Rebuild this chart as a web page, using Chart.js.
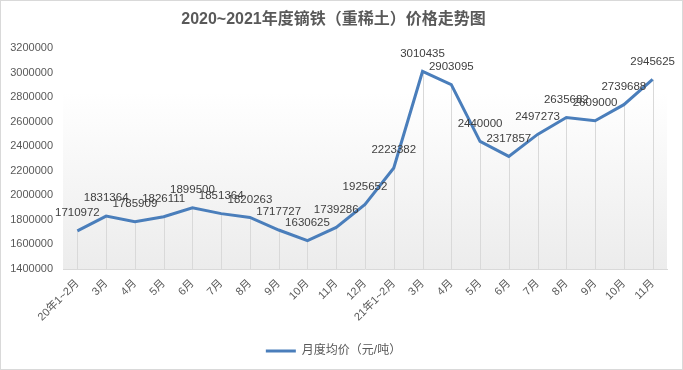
<!DOCTYPE html>
<html>
<head>
<meta charset="utf-8">
<script src="https://cdn.jsdelivr.net/npm/chart.js@4.4.1/dist/chart.umd.min.js"></script>
<style>
  html, body { margin: 0; padding: 0; background: #fff; }
</style>
</head>
<body>
<canvas id="priceChart" width="683" height="370"></canvas>
<script>
// 月份与月度均价（元/吨）
const months = ['20年1~2月', '3月', '4月', '5月', '6月', '7月', '8月', '9月', '10月', '11月', '12月',
                '21年1~2月', '3月', '4月', '5月', '6月', '7月', '8月', '9月', '10月', '11月'];
const prices = [1710972, 1831364, 1785909, 1826111, 1899500, 1851364, 1820263, 1717727, 1630625, 1739286, 1925652,
                2223382, 3010435, 2903095, 2440000, 2317857, 2497273, 2635682, 2609000, 2739688, 2945625];
const yMin = 1400000;
const yMax = 3200000;
const yStep = 200000;

const FONT = "'Liberation Sans', 'Noto Sans CJK SC', sans-serif";
const LINE_COLOR = '#4a7ebb';

// plot area gradient
const plotBackground = {
    id: 'plotBackground',
    beforeDraw(chart) {
        const {ctx, chartArea: a} = chart;
        const g = ctx.createLinearGradient(0, a.top, 0, a.bottom);
        g.addColorStop(0, '#ffffff');
        g.addColorStop(0.2, '#ffffff');
        g.addColorStop(1, '#ececec');
        ctx.save();
        ctx.fillStyle = g;
        ctx.fillRect(a.left, a.top, a.right - a.left, a.bottom - a.top);
        ctx.restore();
    }
};

// vertical drop lines from each point to the axis
const dropLines = {
    id: 'dropLines',
    beforeDatasetsDraw(chart) {
        const {ctx, chartArea: a} = chart;
        const meta = chart.getDatasetMeta(0);
        ctx.save();
        ctx.strokeStyle = '#d9d9d9';
        ctx.lineWidth = 1;
        meta.data.forEach(p => {
            const x = Math.round(p.x) + 0.5;
            ctx.beginPath();
            ctx.moveTo(x, p.y);
            ctx.lineTo(x, a.bottom);
            ctx.stroke();
        });
        ctx.restore();
    }
};

// value labels above the points
const valueLabels = {
    id: 'valueLabels',
    afterDatasetsDraw(chart) {
        const {ctx} = chart;
        const meta = chart.getDatasetMeta(0);
        const values = chart.data.datasets[0].data;
        ctx.save();
        ctx.font = '11.5px ' + FONT;
        ctx.fillStyle = '#404040';
        ctx.textAlign = 'center';
        ctx.textBaseline = 'middle';
        meta.data.forEach((p, i) => {
            ctx.fillText(String(values[i]), p.x, p.y - 18);
        });
        ctx.restore();
    }
};

// outer chart border
const chartBorder = {
    id: 'chartBorder',
    afterDraw(chart) {
        const {ctx, width, height} = chart;
        ctx.save();
        ctx.strokeStyle = '#d9d9d9';
        ctx.lineWidth = 1;
        ctx.strokeRect(0.5, 0.5, width - 1, height - 1);
        ctx.restore();
    }
};

new Chart(document.getElementById('priceChart'), {
    type: 'line',
    data: {
        labels: months,
        datasets: [{
            label: '月度均价（元/吨）',
            data: prices,
            borderColor: LINE_COLOR,
            backgroundColor: LINE_COLOR,
            borderWidth: 3,
            pointRadius: 0,
            pointHoverRadius: 0,
            tension: 0,
            fill: false
        }]
    },
    options: {
        responsive: false,
        animation: false,
        devicePixelRatio: 1,
        layout: {
            padding: {left: 0, right: 16, top: 0, bottom: 3}
        },
        plugins: {
            title: {
                display: true,
                text: '2020~2021年度镝铁（重稀土）价格走势图',
                color: '#595959',
                font: {family: FONT, size: 16, weight: 'bold', lineHeight: 1.2},
                padding: {top: 10, bottom: 19}
            },
            legend: {
                display: true,
                position: 'bottom',
                labels: {
                    color: '#595959',
                    font: {family: FONT, size: 12},
                    usePointStyle: true,
                    pointStyle: 'line',
                    pointStyleWidth: 30,
                    padding: 10
                }
            },
            tooltip: {enabled: false}
        },
        scales: {
            x: {
                offset: true,
                grid: {display: false, drawTicks: false},
                border: {display: true, color: '#d9d9d9', width: 1},
                ticks: {
                    autoSkip: false,
                    maxRotation: 45,
                    minRotation: 45,
                    padding: 8,
                    color: '#595959',
                    font: {family: FONT, size: 11}
                },
                afterFit(scale) { scale.height = 66; }
            },
            y: {
                min: yMin,
                max: yMax,
                grid: {display: false, drawTicks: false},
                border: {display: false},
                ticks: {
                    stepSize: yStep,
                    padding: 10,
                    color: '#595959',
                    font: {family: FONT, size: 11},
                    callback: v => String(v)
                },
                afterFit(scale) { scale.width = 63; }
            }
        }
    },
    plugins: [plotBackground, dropLines, valueLabels, chartBorder]
});
</script>
</body>
</html>
